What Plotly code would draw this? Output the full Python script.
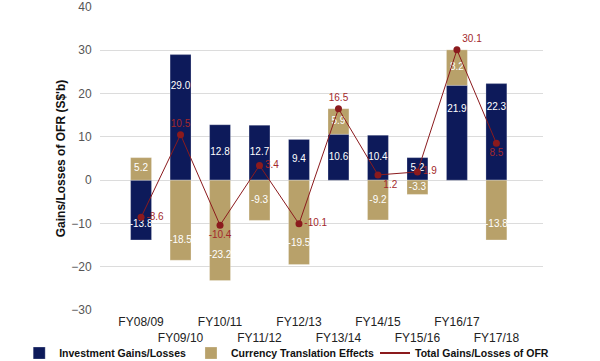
import plotly.graph_objects as go

categories = ["FY08/09", "FY09/10", "FY10/11", "FY11/12", "FY12/13",
              "FY13/14", "FY14/15", "FY15/16", "FY16/17", "FY17/18"]
investment = [-13.8, 29.0, 12.8, 12.7, 9.4, 10.6, 10.4, 5.2, 21.9, 22.3]
currency = [5.2, -18.5, -23.2, -9.3, -19.5, 5.9, -9.2, -3.3, 8.2, -13.8]
total = [-8.6, 10.5, -10.4, 3.4, -10.1, 16.5, 1.2, 1.9, 30.1, 8.5]
total_label_pos = ["middle right", "top center", "bottom center", "middle right",
                   "middle right", "top center", "bottom right", "middle right",
                   "top right", "bottom center"]

# staggered tick labels (two rows)
tick_text = [c if i % 2 == 0 else "<br>" + c for i, c in enumerate(categories)]
x = list(range(len(categories)))

NAVY = "#0d1a5a"
GOLD = "#b8a16a"
RED = "#8b1a1d"
FONT = "Liberation Sans, Arial, sans-serif"


def frac(v):
    # long bars carry their value label nearer the bar end, short ones at the middle
    return 0.75 if abs(v) > 13 else 0.5


# label positions follow the relative stacking (currency stacks on investment when same sign)
inv_label_y = [v * frac(v) for v in investment]
cur_label_y = [(i if i * c > 0 else 0) + c * frac(c) for i, c in zip(investment, currency)]

fig = go.Figure()
fig.add_trace(go.Bar(
    x=x, y=investment, name="Investment Gains/Losses",
    marker=dict(color=NAVY, line=dict(color="rgba(255,255,255,0.5)", width=0.5)),
    width=0.53, legend="legend",
))
fig.add_trace(go.Bar(
    x=x, y=currency, name="Currency Translation Effects",
    marker=dict(color=GOLD, line=dict(color="rgba(255,255,255,0.5)", width=0.5)),
    width=0.53, legend="legend",
))
# value labels inside the bars
fig.add_trace(go.Scatter(
    x=x + x, y=inv_label_y + cur_label_y,
    text=[f"{v:.1f}" for v in investment + currency],
    mode="text", showlegend=False, hoverinfo="skip",
    textfont=dict(color="white", size=10, family=FONT),
))
fig.add_trace(go.Scatter(
    x=x, y=total, name="Total Gains/Losses of OFR",
    mode="lines+markers+text", showlegend=False,
    line=dict(color=RED, width=1),
    marker=dict(color=RED, size=7),
    text=[f"{v:.1f}" for v in total], textposition=total_label_pos,
    textfont=dict(color="#a3282b", size=10, family=FONT),
))
# legend-only entry (line symbol without marker)
fig.add_trace(go.Scatter(
    x=[None], y=[None], name="Total Gains/Losses of OFR",
    mode="lines", line=dict(color=RED, width=2), legend="legend2",
))

legend_font = dict(size=10.5, color="#111", family=FONT, weight="bold")

fig.update_layout(
    width=600, height=361,
    barmode="relative",
    plot_bgcolor="white", paper_bgcolor="white",
    margin=dict(l=100, r=57, t=7, b=51),
    font=dict(family=FONT, color="#222"),
    showlegend=True,
    legend=dict(
        orientation="h", xref="container", yref="container",
        x=0.032, xanchor="left", y=0.022, yanchor="middle",
        font=legend_font, itemwidth=30, tracegroupgap=0,
        bgcolor="rgba(0,0,0,0)",
    ),
    legend2=dict(
        orientation="h", xref="container", yref="container",
        x=0.625, xanchor="left", y=0.022, yanchor="middle",
        font=legend_font, itemwidth=30,
        bgcolor="rgba(0,0,0,0)",
    ),
    xaxis=dict(
        range=[-1.04, 10.18], tickmode="array", tickvals=x, ticktext=tick_text,
        tickangle=0, automargin=False,
        showgrid=False, zeroline=False, showline=False,
        ticks="outside", ticklen=1, tickcolor="white",
        tickfont=dict(size=12, color="#222", family=FONT),
    ),
    yaxis=dict(
        range=[-30, 40], dtick=10, tick0=0, automargin=False,
        showgrid=True, gridcolor="#dcdcdc", gridwidth=1,
        zeroline=False, showline=False,
        tickfont=dict(size=12, color="#555", family=FONT),
        ticks="outside", ticklen=5, tickcolor="white",
        title=dict(text="Gains/Losses of OFR (S$'b)",
                   font=dict(size=12, color="#111", family=FONT, weight="bold"),
                   standoff=3),
    ),
)

# remove the default page margin so the figure sits at the window's top-left corner
fig.write_html("out.html", config={"displayModeBar": False},
               post_script="document.body.style.margin='0';")
